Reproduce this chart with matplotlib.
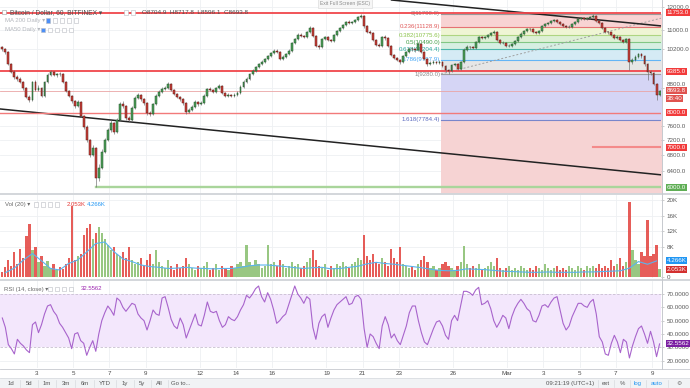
import numpy as np
import matplotlib
matplotlib.use("Agg")
import matplotlib.pyplot as plt
import matplotlib.transforms as mtrans
from matplotlib.patches import Rectangle
from matplotlib.lines import Line2D
from matplotlib.ticker import NullLocator

plt.rcParams['font.family'] = ['Liberation Sans', 'DejaVu Sans']

# ---------------- data (BTC/USD Bitfinex, 4h bars from 1 Feb 2018) ----------------
BAR_HOURS = 4
first_open = 10280.0
closes = [
    10220, 10103, 9646, 9354, 9175, 9105, 9001, 8795, 8495, 8398,
    9001, 8727, 8795, 8528, 9001, 9246, 9354, 9246, 9282, 9270,
    9001, 8694, 8528, 8366, 8206, 8333, 7896, 7570, 7200, 6800,
    6985, 6220, 6470, 6880, 7200, 7483, 7687, 7426, 7776, 8270,
    8206, 7836, 7776, 8143, 8463, 8561, 8430, 8301, 7988, 7957,
    8270, 8528, 8660, 8761, 8795, 8932, 8727, 8594, 8495, 8430,
    8301, 8019, 8081, 8174, 8333, 8270, 8301, 8528, 8761, 8727,
    8660, 8795, 8863, 8627, 8528, 8561, 8528, 8561, 8627, 8829,
    9001, 9105, 9282, 9390, 9535, 9646, 9721, 9834, 9948, 10064,
    10142, 10103, 9834, 9910, 10025, 10142, 10459, 10621, 10786, 10745,
    10703, 10911, 11081, 10745, 10338, 10299, 10621, 10703, 10581, 10539,
    10786, 10954, 11081, 11209, 11339, 11296, 11339, 11427, 11560, 11605,
    11166, 10911, 10880, 10581, 10378, 10338, 10703, 10662, 10338, 9987,
    9872, 9796, 9721, 9948, 10103, 10220, 10200, 10181, 10418, 10103,
    9834, 9646, 9683, 9721, 9683, 9721, 9572, 9426, 9390, 9609,
    9646, 9462, 9721, 10181, 10299, 10280, 10259, 10499, 10703, 10662,
    10703, 10786, 10870, 10911, 10581, 10459, 10470, 10338, 10350, 10418,
    10539, 10703, 10828, 10954, 11038, 11020, 10911, 10870, 10954, 11166,
    11253, 11296, 11383, 11427, 11339, 11253, 11166, 11123, 11140, 11253,
    11339, 11471, 11516, 11490, 11516, 11560, 11605, 11383, 11296, 11081,
    10911, 10890, 10786, 10662, 10703, 10581, 10499, 10621, 9721, 9796,
    9910, 10025, 9948, 9646, 9354, 9330, 8932, 8561, 8693.8]
highs = [
    10340, 10260, 10130, 9700, 9420, 9230, 9160, 9050, 8830, 8560,
    9050, 9060, 8880, 8830, 9040, 9300, 9420, 9400, 9330, 9340,
    9300, 9030, 8740, 8570, 8410, 8390, 8360, 7930, 7620, 7230,
    7050, 7000, 6560, 6950, 7260, 7550, 7760, 7720, 7830, 8330,
    8380, 8240, 7900, 8200, 8520, 8620, 8600, 8470, 8330, 8040,
    8310, 8580, 8720, 8820, 8860, 8990, 8960, 8770, 8630, 8540,
    8460, 8330, 8140, 8230, 8390, 8380, 8360, 8580, 8810, 8820,
    8770, 8840, 8920, 8890, 8660, 8610, 8600, 8620, 8680, 8880,
    9060, 9160, 9330, 9450, 9590, 9700, 9780, 9890, 10000, 10120,
    10200, 10230, 10130, 9970, 10080, 10200, 10510, 10680, 10850, 10860,
    10800, 10970, 11150, 11110, 10780, 10400, 10680, 10760, 10750, 10640,
    10840, 11010, 11140, 11270, 11400, 11420, 11400, 11490, 11620, 11700,
    11640, 11200, 10980, 10920, 10620, 10450, 10760, 10780, 10700, 10370,
    10030, 9920, 9850, 10000, 10160, 10280, 10290, 10260, 10480, 10450,
    10140, 9870, 9740, 9780, 9770, 9780, 9760, 9610, 9470, 9660,
    9700, 9680, 9770, 10240, 10360, 10350, 10330, 10550, 10760, 10760,
    10760, 10840, 10930, 10990, 10950, 10620, 10540, 10510, 10420, 10470,
    10590, 10760, 10890, 11010, 11090, 11100, 11060, 10960, 11010, 11220,
    11310, 11350, 11440, 11490, 11470, 11380, 11290, 11210, 11200, 11310,
    11400, 11530, 11570, 11570, 11570, 11620, 11690, 11640, 11420, 11330,
    11120, 10970, 10930, 10820, 10770, 10740, 10630, 10680, 10650, 9860,
    9970, 10080, 10060, 9980, 9680, 9420, 9360, 8960, 8720]
lows = [
    10150, 10040, 9600, 9300, 9120, 9040, 8950, 8740, 8450, 8340,
    8380, 8680, 8690, 8480, 8500, 8980, 9200, 9200, 9190, 9200,
    8960, 8650, 8480, 8300, 8150, 8170, 7850, 7500, 7130, 6750,
    6760, 6000, 6150, 6440, 6850, 7160, 7430, 7380, 7400, 7750,
    8150, 7780, 7700, 7750, 8110, 8420, 8380, 8250, 7920, 7880,
    7930, 8240, 8500, 8620, 8720, 8770, 8690, 8550, 8450, 8380,
    8250, 7970, 7980, 8050, 8150, 8220, 8240, 8280, 8500, 8680,
    8620, 8640, 8760, 8580, 8480, 8490, 8480, 8500, 8530, 8600,
    8800, 8970, 9080, 9250, 9360, 9500, 9610, 9690, 9800, 9910,
    10030, 10050, 9780, 9790, 9880, 9990, 10110, 10420, 10580, 10690,
    10650, 10670, 10870, 10690, 10280, 10230, 10270, 10580, 10530, 10480,
    10510, 10750, 10920, 11040, 11170, 11240, 11250, 11300, 11390, 11520,
    11100, 10850, 10820, 10520, 10320, 10280, 10310, 10600, 10280, 9930,
    9820, 9740, 9660, 9690, 9910, 10070, 10140, 10120, 10150, 10050,
    9780, 9590, 9600, 9640, 9630, 9640, 9520, 9370, 9280, 9360,
    9570, 9410, 9430, 9690, 10150, 10220, 10200, 10230, 10460, 10610,
    10620, 10660, 10750, 10830, 10530, 10400, 10410, 10290, 10290, 10310,
    10390, 10500, 10670, 10790, 10920, 10970, 10860, 10820, 10830, 10920,
    11130, 11210, 11260, 11340, 11290, 11200, 11120, 11070, 11070, 11100,
    11210, 11300, 11430, 11440, 11440, 11470, 11520, 11330, 11240, 11030,
    10860, 10830, 10730, 10610, 10620, 10530, 10440, 10460, 9420, 9650,
    9760, 9870, 9890, 9590, 9070, 9260, 8880, 8400, 8520]
volume_k = [
    1.5, 2.8, 4.5, 3.0, 6.5, 3.5, 7.5, 5.0, 10.8, 13.8,
    7.0, 8.0, 4.0, 5.5, 3.0, 4.2, 2.5, 3.5, 2.0, 2.8,
    2.2, 3.5, 5.0, 18.5, 4.5, 5.5, 6.0, 11.0, 12.8, 14.0,
    10.0, 11.5, 13.0, 11.6, 10.0, 8.5, 7.0, 8.0, 6.0, 5.5,
    6.5, 5.0, 8.0, 4.5, 3.5, 4.0, 5.0, 3.0, 4.5, 6.0,
    3.5, 7.0, 4.0, 3.0, 2.5, 4.5, 3.0, 2.0, 3.5, 2.5,
    3.0, 5.0, 3.5, 2.5, 2.0, 3.0, 2.5, 3.0, 4.0, 2.0,
    2.5, 3.5, 2.0, 3.0, 2.5, 2.0, 3.0, 2.5, 3.5, 4.0,
    3.0, 8.3, 4.0, 3.0, 4.5, 3.5, 2.5, 3.0, 8.3, 3.5,
    4.0, 3.0, 4.5, 3.5, 2.5, 3.0, 4.0, 3.0, 3.5, 2.5,
    3.0, 4.0, 5.0, 7.0, 4.5, 3.0, 2.5, 3.5, 2.0, 3.0,
    2.5, 3.5, 3.0, 4.0, 3.0, 2.5, 3.5, 4.0, 5.0, 4.5,
    11.0, 5.5, 4.5, 6.0, 4.0, 3.5, 5.0, 4.0, 3.0, 7.5,
    5.0, 4.0, 7.9, 3.5, 3.0, 2.5, 3.0, 2.0, 3.5, 4.5,
    5.6, 4.0, 2.5, 3.0, 2.0, 2.5, 3.5, 4.0, 3.0, 2.5,
    2.0, 3.0, 4.0, 8.2, 3.5, 2.5, 3.0, 2.5, 3.5, 2.0,
    2.5, 3.0, 4.0, 3.0, 5.0, 2.5, 2.0, 2.5, 3.0, 2.0,
    2.5, 2.0, 3.0, 2.5, 2.0, 2.5, 2.0, 3.0, 2.5, 2.0,
    3.5, 2.5, 2.0, 2.5, 3.0, 2.0, 2.5, 2.0, 3.0, 2.5,
    2.0, 3.0, 2.5, 2.0, 3.0, 2.5, 3.0, 2.5, 3.5, 2.5,
    3.0, 2.5, 4.5, 3.0, 3.5, 5.0, 3.0, 4.0, 19.5, 7.0,
    4.5, 3.5, 6.5, 5.5, 14.8, 5.6, 6.0, 8.3, 2.053]
# Vol(20) moving average, read every 12 hours
vol_ma_k = [
    1.2, 2.4, 4.5, 6.2, 4.3, 2.3, 1.9, 3.6, 4.5, 6.6,
    8.8, 9.2, 6.7, 4.8, 4.1, 3.2, 2.8, 2.6, 2.3, 2.4,
    2.6, 2.4, 2.3, 2.2, 2.3, 2.3, 2.6, 3.0, 3.2, 3.2,
    3.0, 2.8, 2.5, 2.3, 2.5, 2.6, 2.2, 2.3, 2.6, 2.9,
    3.5, 3.9, 3.6, 3.4, 3.1, 2.8, 2.5, 2.1, 1.8, 1.7,
    1.8, 2.2, 2.1, 2.0, 1.8, 1.6, 1.5, 1.4, 1.3, 1.3,
    1.4, 1.3, 1.3, 1.3, 1.4, 1.4, 1.5, 1.6, 1.7, 2.4,
    4.1, 3.4, 4.266]
rsi_values = [
    52, 45, 32, 29, 25, 36, 33, 31, 28, 26,
    47, 49, 41, 47, 55, 61, 62, 57, 54, 48,
    45, 41, 37, 29, 40, 41, 35, 33, 24, 30,
    35, 27, 40, 50, 56, 61, 58, 54, 67, 65,
    60, 57, 60, 63, 62, 55, 52, 50, 43, 50,
    58, 55, 54, 67, 68, 60, 51, 46, 44, 52,
    47, 37, 43, 49, 55, 47, 46, 54, 64, 57,
    56, 57, 50, 45, 47, 53, 51, 50, 53, 58,
    62, 69, 67, 70, 74, 76, 68, 64, 71, 66,
    58, 48, 50, 53, 55, 62, 69, 76, 70, 67,
    63, 68, 66, 45, 36, 48, 53, 55, 45, 52,
    58, 62, 64, 66, 68, 62, 63, 68, 69, 66,
    44, 30, 40, 38, 33, 29, 46, 53, 47, 37,
    40, 35, 32, 39, 46, 56, 61, 61, 50, 41,
    34, 32, 38, 44, 49, 50, 46, 39, 36, 50,
    54, 50, 61, 72, 72, 71, 69, 73, 75, 62,
    63, 65, 59, 50, 45, 49, 54, 52, 44, 53,
    59, 63, 66, 63, 59, 57, 50, 49, 54, 61,
    62, 60, 64, 67, 68, 58, 48, 43, 46, 53,
    58, 63, 63, 61, 60, 64, 66, 55, 38, 34,
    25, 24, 33, 39, 34, 26, 36, 34, 22, 31,
    38, 44, 46, 40, 33, 42, 34, 23, 32.5562]

date_tick_days = [2, 4, 6, 8, 11, 13, 15, 18, 20, 22, 25, 28, 30, 32, 34, 36]
date_tick_labels = ["3", "5", "7", "9", "12", "14", "16", "19", "21", "23", "26",
                    "Mar", "3", "5", "7", "9"]
price_ticks = [12000, 11000, 10200, 8800, 7600, 7200, 6800, 6400]
vol_ticks = [0, 8, 12, 16, 20]
vol_tick_labels = ["0", "8K", "12K", "16K", "20K"]
rsi_ticks = [20, 30, 40, 50, 60, 70]

fib_levels = ["0", "0.236", "0.382", "0.5", "0.618", "0.786", "1", "1.618", "2.618"]
fib_prices = [11700.0, 11128.9, 10775.6, 10490.0, 10204.4, 9797.9, 9280.0, 7784.4, 5364.4]
fib_start_day = 24.33
fib_end_day = 37.44

lower_trend_days = [-0.04, 36.55]
lower_trend_prices = [8112, 6292]
upper_trend_days = [21.6, 36.55]
upper_trend_prices = [12342, 11166]
support_6000_start = 5.26
resist_7000_start = 32.74
last_price = 8693.8

# ---------------- layout / style ----------------
W, H = 690, 388
PX_PER_DAY = 18.09
X0PX = 0.8
XMIN = (0 - X0PX) / PX_PER_DAY
XMAX = (661 - X0PX) / PX_PER_DAY

fig = plt.figure(figsize=(W / 100, H / 100), dpi=100)
fig.patch.set_facecolor('white')


def add_px_axes(x0, y0, x1, y1):
    ax = fig.add_axes([x0 / W, 1 - y1 / H, (x1 - x0) / W, (y1 - y0) / H])
    ax.set_facecolor('none')
    for s in ax.spines.values():
        s.set_visible(False)
    ax.set_xlim(XMIN, XMAX)
    return ax


ax_p = add_px_axes(0, 0, 661, 193)
ax_v = add_px_axes(0, 195, 661, 278)
ax_r = add_px_axes(0, 281, 661, 368)

GRID = '#eef0f3'
LABEL_C = '#5a5a5a'
FS = 4.5
BOX = dict(boxstyle='square,pad=0.16', ec='none')

n = len(closes)
x = (np.arange(n) + 0.5) * BAR_HOURS / 24.0
c = np.array(closes, float)
o = np.array([first_open] + closes[:-1], float)
hi = np.array(highs, float)
lo = np.array(lows, float)
up = c >= o

for ax in (ax_p, ax_v, ax_r):
    for d in date_tick_days:
        ax.axvline(d, color=GRID, lw=0.6, zorder=0)

# ---------- price pane ----------
ax_p.set_yscale('log')
ax_p.set_ylim(5869, 12342)
ax_p.yaxis.tick_right()
ax_p.set_yticks(price_ticks)
ax_p.set_yticklabels([f"{t:.1f}" for t in price_ticks])
ax_p.yaxis.set_minor_locator(NullLocator())
ax_p.set_xticks([])
ax_p.tick_params(axis='y', length=2.5, width=0.5, color='#b8b8b8',
                 labelsize=FS, labelcolor=LABEL_C, pad=1.5)
# the 8800 label sits just above the last-price box, as in the original
for lab in ax_p.get_yticklabels():
    if lab.get_text() == "8800.0":
        lab.set_transform(lab.get_transform() +
                          mtrans.ScaledTranslation(0, 2.6 / 72, fig.dpi_scale_trans))
for p in price_ticks:
    ax_p.axhline(p, color=GRID, lw=0.6, zorder=0)

zone_colors = ['#f8d3d3', '#eff5d4', '#ddf0d5', '#d6efe2', '#d5ebf5', '#e6e6e6',
               '#d5d5f5', '#f6d3d3']
line_colors = ['#9a9a9a', '#e57373', '#aed581', '#81c784', '#4db6ac', '#64b5f6',
               '#9e9e9e', '#7986cb', '#e57373']
text_colors = ['#8a8a8a', '#e05a5a', '#8bc34a', '#43a047', '#26a69a', '#42a5f5',
               '#8a8a8a', '#5c6bc0']
for k in range(len(fib_prices) - 1):
    ax_p.fill_between([fib_start_day, XMAX + 1], fib_prices[k + 1], fib_prices[k],
                      color=zone_colors[k], lw=0, zorder=0.5)
for k in range(len(fib_prices)):
    ax_p.plot([fib_start_day, XMAX + 1], [fib_prices[k]] * 2, color=line_colors[k],
              lw=0.8, zorder=1)
for k in range(len(fib_prices) - 1):
    ax_p.text(fib_start_day - 0.04, fib_prices[k], f"{fib_levels[k]}({fib_prices[k]:.1f})",
              ha='right', va='center', fontsize=4.4, color=text_colors[k], zorder=2)
ax_p.plot([fib_start_day, fib_end_day], [fib_prices[6], fib_prices[0]],
          ls=(0, (2, 2)), color='#a0a0a0', lw=0.7, zorder=1.5)

ax_p.plot(lower_trend_days, lower_trend_prices, color='#222222', lw=1.1, zorder=2)
ax_p.plot(upper_trend_days, upper_trend_prices, color='#222222', lw=1.1, zorder=2)

ax_p.axhline(11753.0, color='#f0464b', lw=1.3, zorder=2)
ax_p.axhline(9385.0, color='#f0464b', lw=1.3, zorder=2)
ax_p.axhline(8000.0, color='#f27a7a', lw=1.0, zorder=2)
ax_p.axhline(last_price, color='#eaa5a5', lw=0.6, zorder=2)
ax_p.plot([resist_7000_start, XMAX + 1], [7000, 7000], color='#f48a8a', lw=1.5, zorder=2)
ax_p.plot([support_6000_start, XMAX + 1], [6000, 6000], color='#a9d59b', lw=1.7, zorder=2)

bl = np.minimum(o, c)
bh = np.maximum(o, c)
ax_p.vlines(x, lo, hi, color='#6b6b6b', lw=0.45, zorder=3)
ax_p.bar(x[up], (bh - bl)[up], bottom=bl[up], width=0.105, color='#4e9f5a',
         edgecolor='#1f4f27', linewidth=0.35, zorder=4)
ax_p.bar(x[~up], (bh - bl)[~up], bottom=bl[~up], width=0.105, color='#c8403a',
         edgecolor='#5a1a14', linewidth=0.35, zorder=4)

ytr = ax_p.get_yaxis_transform()
price_boxes = [(11753.0, "11753.0", '#f23b3b'), (9385.0, "9385.0", '#f23b3b'),
               (last_price, "8693.8", '#e0534f'), (8430, "38:40", '#e0534f'),
               (8000.0, "8000.0", '#f23b3b'), (7000.0, "7000.0", '#f23b3b'),
               (6000.0, "6000.0", '#5fae55')]
for val, txt, col in price_boxes:
    ax_p.text(1.0085, val, txt, transform=ytr, ha='left', va='center', fontsize=FS,
              color='white', zorder=10, bbox=dict(BOX, fc=col))

# ---------- volume pane ----------
ax_v.set_ylim(-0.18, 21.43)
nv = min(len(volume_k), n)
vcol = ['#86bd6c' if u else '#e2403c' for u in up[:nv]]
ax_v.bar(x[:nv], volume_k[:nv], width=0.12, color=vcol, alpha=0.85, lw=0, zorder=2)
ma_days = 0.25 + 0.5 * np.arange(len(vol_ma_k))
ax_v.plot(ma_days, vol_ma_k, color='#5ab4ee', lw=0.8, zorder=3)
ax_v.yaxis.tick_right()
ax_v.set_yticks(vol_ticks)
ax_v.set_yticklabels(vol_tick_labels)
ax_v.set_xticks([])
ax_v.tick_params(axis='y', length=2.5, width=0.5, color='#b8b8b8',
                 labelsize=FS, labelcolor=LABEL_C, pad=1.5)
for t in vol_ticks[1:]:
    ax_v.axhline(t, color=GRID, lw=0.6, zorder=0)
vtr = ax_v.get_yaxis_transform()
for val, txt, col in [(4.266, "4.266K", '#2196f3'), (2.053, "2.053K", '#d32f2f')]:
    ax_v.text(1.0085, val, txt, transform=vtr, ha='left', va='center', fontsize=FS,
              color='white', zorder=10, bbox=dict(BOX, fc=col))

# ---------- RSI pane ----------
ax_r.set_ylim(14.47, 79.76)
ax_r.axhspan(30, 70, color='#f3e7fc', lw=0, zorder=0.5)
for lvl in (30, 70):
    ax_r.axhline(lvl, color='#c8bfd0', lw=0.6, ls=(0, (3, 2)), zorder=1)
for t in (20, 40, 50, 60):
    ax_r.axhline(t, color=GRID, lw=0.6, zorder=0)
nr = min(len(rsi_values), n)
ax_r.plot(x[:nr], rsi_values[:nr], color='#a864cc', lw=0.8, zorder=3)
ax_r.yaxis.tick_right()
ax_r.set_yticks(rsi_ticks)
ax_r.set_yticklabels([f"{t:.4f}" for t in rsi_ticks])
ax_r.tick_params(axis='y', length=2.5, width=0.5, color='#b8b8b8',
                 labelsize=FS, labelcolor=LABEL_C, pad=1.5)
ax_r.set_xticks(date_tick_days)
ax_r.set_xticklabels(date_tick_labels)
ax_r.tick_params(axis='x', length=0, pad=2.4, labelsize=FS, labelcolor='#4a4a4a')
rtr = ax_r.get_yaxis_transform()
ax_r.text(1.0085, rsi_values[-1], "32.5562", transform=rtr, ha='left', va='center',
          fontsize=FS, color='white', zorder=10, bbox=dict(BOX, fc='#7b1fa2'))


# ---------- frame, legends, toolbar ----------
def fline(x0, y0, x1, y1, **kw):
    fig.add_artist(Line2D([x0 / W, x1 / W], [1 - y0 / H, 1 - y1 / H],
                          transform=fig.transFigure, **kw))


def frect(x0, y0, w, h, **kw):
    fig.add_artist(Rectangle((x0 / W, 1 - (y0 + h) / H), w / W, h / H,
                             transform=fig.transFigure, **kw))


def ftext(px, py, s, **kw):
    kw.setdefault('va', 'center')
    fig.text(px / W, 1 - py / H, s, **kw)


def icons(xs, py, first_blue=False):
    for k, px in enumerate(xs):
        fc = '#4c8ff7' if (first_blue and k == 0) else 'white'
        frect(px, py - 2.2, 4.4, 4.4, fc=fc, ec='#b9bcc2', lw=0.4)


fline(0, 194, 690, 194, color='#d3d6da', lw=1.4)
fline(0, 279.6, 690, 279.6, color='#d3d6da', lw=1.4)
fline(661.5, 0, 661.5, 369, color='#c6c9ce', lw=0.7)
fline(0, 368.6, 690, 368.6, color='#c6c9ce', lw=0.6)

frect(0, 378, 690, 10, fc='#f1f3f5', ec='none')
fline(0, 378, 690, 378, color='#dadde1', lw=0.6)

frect(318, -1, 54, 9, fc='#f6f6f6', ec='#dcdcdc', lw=0.5)
ftext(345, 3.8, "Exit Full Screen (ESC)", ha='center', fontsize=3.6, color='#8c8c8c')

frect(2, 10, 4.4, 4.4, fc='white', ec='#9a9a9a', lw=0.4)
ftext(10, 12.3, "Bitcoin / Dollar, 60, BITFINEX \u25be", fontsize=4.8, color='#4f4f4f')
icons([124, 131], 12.3)
ftext(142, 12.3, "O8704.9  H8717.8  L8596.1  C8693.8", fontsize=4.6, color='#4f4f4f')
ftext(5, 20.7, "MA 200 Daily \u25be", fontsize=4.3, color='#b4b7bd')
icons([46, 53, 60, 67, 74], 20.7, first_blue=True)
ftext(5, 30, "MA50 Daily \u25be", fontsize=4.3, color='#b4b7bd')
icons([41, 48, 55, 62, 69], 30, first_blue=True)

ftext(5, 204.3, "Vol (20) \u25be", fontsize=4.3, color='#6a6a6a')
icons([34, 41, 48, 55], 204.3)
ftext(67, 204.3, "2.053K", fontsize=4.3, color='#e53935')
ftext(87, 204.3, "4.266K", fontsize=4.3, color='#2196f3')

ftext(4, 289, "RSI (14, close) \u25be", fontsize=4.3, color='#6a6a6a')
icons([48, 55, 62, 69], 289)
ftext(81, 289, "32.5562", fontsize=4.3, color='#9c27b0')

tool_left = [(11, "1d"), (29, "5d"), (47, "1m"), (66, "3m"), (85, "6m"), (105, "YTD"),
             (125, "1y"), (142, "5y"), (159, "All"), (181, "Go to...")]
for px, s in tool_left:
    ftext(px, 383.2, s, ha='center', fontsize=4.3, color='#555555')
for px in (20, 38, 56, 75, 94, 116, 134, 151, 168):
    fline(px, 379.5, px, 387, color='#d8dbdf', lw=0.5)
tool_right = [(570, "09:21:19 (UTC+1)", '#555555'), (606, "ext", '#555555'),
              (622, "%", '#555555'), (638, "log", '#2196f3'), (657, "auto", '#2196f3'),
              (679, "\u2699", '#777777')]
for px, s, col in tool_right:
    ftext(px, 383.2, s, ha='center', fontsize=4.3, color=col)
for px in (598, 614, 630, 646, 668):
    fline(px, 379.5, px, 387, color='#d8dbdf', lw=0.5)

fig.savefig("out.png", dpi=100, facecolor='white')
